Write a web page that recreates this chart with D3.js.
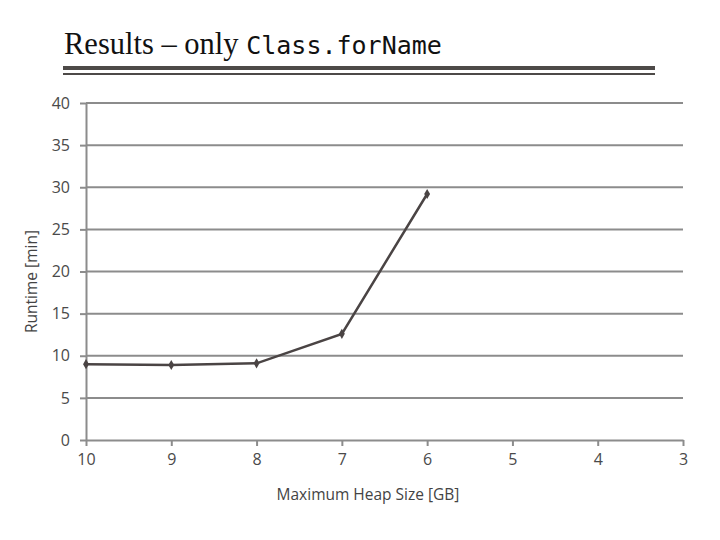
<!DOCTYPE html>
<html>
<head>
<meta charset="utf-8">
<script src="https://cdn.jsdelivr.net/npm/d3@7"></script>
<style>
  body { margin: 0; background: #fff; }
  svg text { font-family: "Open Sans", "Noto Sans", sans-serif; }
</style>
</head>
<body>
<div id="chart"></div>
<script>
// heap size (GB) and runtime (min)
const heapSizes = [10, 9, 8, 7, 6];
const runtimes = [9.0, 8.9, 9.1, 12.6, 29.2];
const xTicks = [10, 9, 8, 7, 6, 5, 4, 3];
const yTicks = [0, 5, 10, 15, 20, 25, 30, 35, 40];

const width = 720;
const height = 540;

const svg = d3
  .select("#chart")
  .append("svg")
  .attr("width", width)
  .attr("height", height);

// title, serif part + monospace part
const title = svg
  .append("text")
  .attr("x", 64)
  .attr("y", 54)
  .attr("font-size", 30.5)
  .attr("fill", "#111");
title
  .append("tspan")
  .style("font-family", "'Liberation Serif', 'DejaVu Serif', serif")
  .text("Results – only ");
title
  .append("tspan")
  .style("font-family", "'DejaVu Sans Mono', 'Liberation Mono', monospace")
  .attr("font-size", 25)
  .text("Class.forName");

// double rule under the title
svg
  .append("rect")
  .attr("x", 63)
  .attr("y", 66)
  .attr("width", 592)
  .attr("height", 4)
  .attr("fill", "#4d4a48");
svg
  .append("rect")
  .attr("x", 63)
  .attr("y", 73)
  .attr("width", 592)
  .attr("height", 2)
  .attr("fill", "#4d4a48");

const x = d3.scaleLinear().domain([10, 3]).range([86, 683]);
const y = d3.scaleLinear().domain([0, 40]).range([440, 103]);

// horizontal gridlines
svg
  .append("g")
  .attr("class", "grid")
  .selectAll("line")
  .data(yTicks.filter((d) => d > 0))
  .enter()
  .append("line")
  .attr("x1", x(10))
  .attr("x2", x(3))
  .attr("y1", (d) => y(d))
  .attr("y2", (d) => y(d))
  .attr("stroke", "#8c8c8c")
  .attr("stroke-width", 2);

// y axis
const yAxis = svg
  .append("g")
  .attr("transform", `translate(${x(10)},0)`)
  .call(
    d3.axisLeft(y).tickValues(yTicks).tickFormat(d3.format("d"))
      .tickSize(6).tickPadding(10).tickSizeOuter(0)
  );

// x axis
const xAxis = svg
  .append("g")
  .attr("transform", `translate(0,${y(0)})`)
  .call(
    d3.axisBottom(x).tickValues(xTicks).tickFormat(d3.format("d"))
      .tickSize(6).tickPadding(8).tickSizeOuter(0)
  );

[yAxis, xAxis].forEach((g) => {
  g.select(".domain").attr("stroke", "#8c8c8c").attr("stroke-width", 2);
  g.selectAll(".tick line").attr("stroke", "#8c8c8c").attr("stroke-width", 2);
  g.selectAll(".tick text")
    .attr("font-size", 16)
    .attr("fill", "#4a4a4a")
    .style("font-family", "'Open Sans', sans-serif");
});

// data line
const line = d3
  .line()
  .x((d, i) => x(heapSizes[i]))
  .y((d) => y(d));

svg
  .append("path")
  .datum(runtimes)
  .attr("d", line)
  .attr("fill", "none")
  .attr("stroke", "#4a4444")
  .attr("stroke-width", 2.5);

// diamond markers
svg
  .append("g")
  .selectAll("path")
  .data(runtimes)
  .enter()
  .append("path")
  .attr("d", d3.symbol().type(d3.symbolDiamond).size(30))
  .attr("transform", (d, i) => `translate(${x(heapSizes[i])},${y(d)})`)
  .attr("fill", "#4a4444");

// axis titles
svg
  .append("text")
  .attr("transform", `translate(37,${(y(0) + y(40)) / 2 + 10}) rotate(-90)`)
  .attr("text-anchor", "middle")
  .attr("font-size", 15.5)
  .attr("fill", "#444")
  .text("Runtime [min]");

svg
  .append("text")
  .attr("x", 368)
  .attr("y", 500)
  .attr("text-anchor", "middle")
  .attr("font-size", 15.5)
  .attr("fill", "#444")
  .text("Maximum Heap Size [GB]");
</script>
</body>
</html>
